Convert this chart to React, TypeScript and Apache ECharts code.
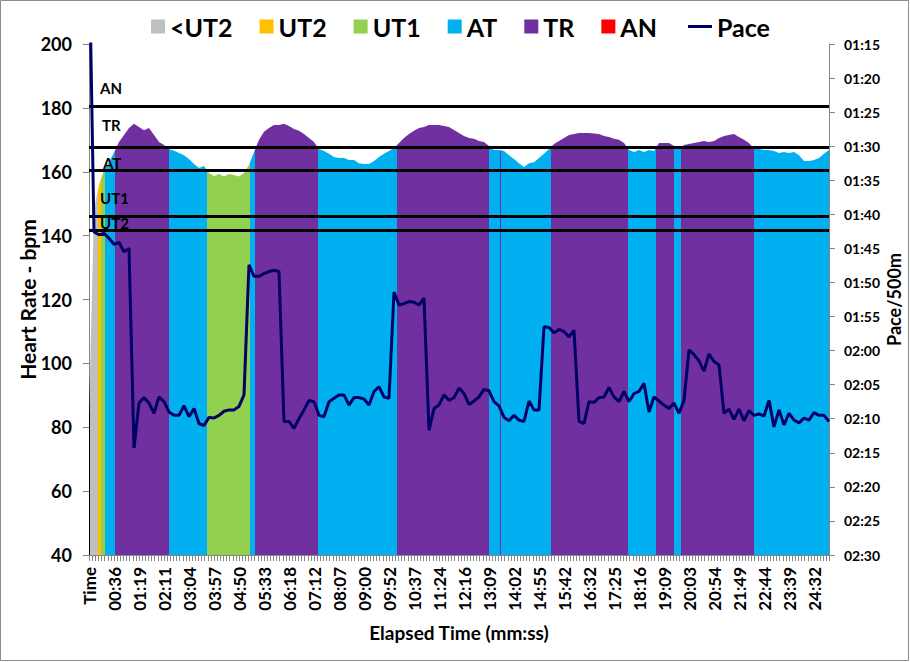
import React, { useEffect, useRef } from "react";
import * as echarts from "echarts";

// ---- data ----
const tickLabels = [
  "Time", "00:36", "01:19", "02:11", "03:04", "03:57", "04:50", "05:33", "06:18", "07:12",
  "08:07", "09:00", "09:52", "10:37", "11:24", "12:16", "13:09", "14:02", "14:55", "15:42",
  "16:32", "17:25", "18:16", "19:09", "20:03", "20:54", "21:49", "22:44", "23:39", "24:32",
];
const samplesPerLabel = 5;

const hrValues = [
  84, 148, 156, 160.5, 163, 166, 169.3, 171.5, 173.7, 175,
  174, 173, 173.7, 171.5, 169.3, 168.4, 167.1, 166.6, 165.9, 165.2,
  164, 162.4, 161.2, 161.8, 159.6, 158.7, 159.3, 158.5, 159.3, 159,
  158.5, 159.6, 162.1, 166.2, 170, 172.5, 173.7, 174.6, 174.6, 175,
  174.3, 173.4, 172.8, 171.8, 170.6, 169.3, 167.1, 166.5, 165.6, 164.6,
  164.3, 164.3, 163.7, 163.7, 162.7, 162.4, 162.4, 163.4, 164.6, 165.6,
  166.5, 167.4, 169, 170.6, 171.8, 172.8, 173.7, 174, 174.6, 174.6,
  174.6, 174.3, 174, 173.1, 172.1, 171.2, 170.6, 170.3, 169.6, 169.3,
  168.1, 166.8, 166.8, 166.5, 165.2, 164, 162.7, 161.5, 162.7, 163,
  164.3, 165.6, 167.1, 168.7, 169.6, 170.6, 171.5, 171.8, 172.1, 172.1,
  172.1, 172, 171.8, 171.2, 170.9, 170.3, 170, 169, 166.8, 166.2,
  166.8, 166.2, 166.8, 166.5, 169, 169, 169, 168.1, 167.1, 168.4,
  168.7, 169, 169.3, 169.6, 169.3, 169.6, 170.6, 171.2, 171.5, 171.8,
  170.9, 170, 169, 167.1, 167.1, 166.8, 166.8, 166.5, 165.9, 166.2,
  165.9, 166.2, 165.2, 163.4, 163.4, 163.7, 164.3, 165.6, 166.8,
];

// pace per 500m, in seconds
const paceSeconds = [
  60, 102.6, 103.0, 102.8, 103.5, 104.4, 104.1, 105.5, 105.0, 134.3,
  127.7, 126.9, 127.7, 129.2, 126.8, 127.5, 129.0, 129.5, 129.5, 128.1,
  129.7, 128.5, 130.7, 131.0, 129.8, 129.9, 129.5, 128.9, 128.7, 128.7,
  128.2, 126.5, 107.4, 109.1, 109.1, 108.7, 108.4, 108.2, 108.4, 130.4,
  130.4, 131.4, 130.0, 128.7, 127.3, 127.5, 129.5, 129.7, 127.5, 127.0,
  126.5, 126.5, 128.0, 126.9, 126.9, 127.1, 128.0, 126.0, 125.3, 126.8,
  127.0, 111.4, 113.3, 113.1, 112.8, 112.9, 113.3, 112.3, 131.7, 128.5,
  128.0, 126.5, 127.3, 126.9, 125.5, 126.3, 127.9, 127.4, 126.8, 125.7,
  125.9, 127.5, 128.1, 129.8, 130.3, 129.5, 130.2, 130.4, 127.4, 128.7,
  128.7, 116.5, 116.6, 117.4, 116.9, 117.2, 118.0, 117.0, 130.4, 130.7,
  127.5, 127.6, 126.9, 126.8, 125.4, 126.8, 127.5, 126.0, 127.5, 126.3,
  126.0, 124.8, 129.0, 126.8, 127.4, 128.0, 128.5, 127.7, 129.2, 127.3,
  119.9, 120.6, 121.5, 123.0, 120.5, 121.6, 122.1, 129.2, 128.6, 130.1,
  128.6, 130.3, 128.8, 129.5, 129.3, 129.6, 127.3, 131.2, 128.7, 130.9,
  129.2, 130.2, 130.6, 129.9, 130.2, 129.1, 129.5, 129.5, 130.4,
];

// training zone of each stretch of the session (start sample index, zone)
const zoneStarts = [0, 0.3, 1.76, 2.44, 3.3, 5.3, 16, 23.6, 32.1, 33.3, 45.8, 61.6, 80.1, 82.2, 82.4, 92.4, 107.8, 113.3, 117.1, 118.4, 132.9];
const zoneOfStretch = ["", "<UT2", "UT2", "UT1", "AT", "TR", "AT", "UT1", "AT", "TR", "AT", "TR", "AT", "TR", "AT", "TR", "AT", "TR", "AT", "TR", "AT"];

const zoneNames = ["<UT2", "UT2", "UT1", "AT", "TR", "AN"];
const thresholdNames = ["AN", "TR", "AT", "UT1", "UT2"];
const thresholdValues = [180.5, 167.8, 160.5, 146.2, 141.7];

// ---- styles ----
const zoneColors: Record<string, string> = {
  "": "#000000",
  "<UT2": "#BFBFBF",
  UT2: "#FFC000",
  UT1: "#92D050",
  AT: "#00B0F0",
  TR: "#7030A0",
  AN: "#FF0000",
};
const paceColor = "#000066";
const labelDistances: number[][] = [[11, 11], [13, 14], [14, 0], [11, 10], [11, 0]];
const FONT = "Lato, 'Liberation Sans', sans-serif";
const legendText = { fontSize: 25, fontWeight: "bold", color: "#000", fontFamily: FONT };

const fmtPace = (v: number) => {
  const m = Math.floor(v / 60);
  const s = Math.round(v - m * 60);
  return `${String(m).padStart(2, "0")}:${String(s).padStart(2, "0")}`;
};

export default function App() {
  const ref = useRef<HTMLDivElement>(null);

  useEffect(() => {
    if (!ref.current) return;
    const chart = echarts.init(ref.current, undefined, { renderer: "svg" });
    const lastIndex = hrValues.length - 1;

    const pieces = zoneStarts.map((start, i) => {
      const end = i + 1 < zoneStarts.length ? zoneStarts[i + 1] : lastIndex + 1;
      return { gte: start, lt: end, color: zoneColors[zoneOfStretch[i]] };
    });

    const zoneSeries = zoneNames.map((name) => ({
      name,
      type: "bar",
      data: [],
      itemStyle: { color: zoneColors[name] },
    }));

    const option: any = {
      animation: false,
      backgroundColor: "#ffffff",
      textStyle: { fontFamily: FONT },
      graphic: [
        {
          type: "rect",
          shape: { x: 0.5, y: 0.5, width: 908, height: 660 },
          style: { fill: "none", stroke: "#8c8c8c", lineWidth: 1 },
          silent: true,
        },
      ],
      legend: [
        {
          top: 9,
          left: 146,
          itemWidth: 14,
          itemHeight: 14,
          itemGap: 27,
          textStyle: legendText,
          data: zoneNames.map((n) => ({ name: n, icon: "rect" })),
        },
        {
          top: 9,
          left: 683,
          itemWidth: 24,
          itemHeight: 3,
          textStyle: legendText,
          data: [{ name: "Pace", icon: "rect" }],
        },
      ],
      grid: { left: 89, top: 44, width: 740, height: 511, outerBoundsMode: "none" },
      visualMap: {
        type: "piecewise",
        show: false,
        seriesIndex: 0,
        dimension: 0,
        pieces,
        outOfRange: { color: "#000000" },
      },
      xAxis: {
        type: "value",
        min: 0,
        max: lastIndex,
        interval: samplesPerLabel,
        name: "Elapsed Time (mm:ss)",
        nameLocation: "middle",
        nameGap: 68,
        nameMoveOverlap: false,
        nameTextStyle: { fontSize: 19, fontWeight: "bold", color: "#000", fontFamily: FONT },
        axisLine: { lineStyle: { color: "#868686", width: 1 } },
        axisTick: { length: 6, lineStyle: { color: "#868686" } },
        minorTick: { show: true, splitNumber: 8, length: 6, lineStyle: { color: "#868686" } },
        splitLine: { show: false },
        axisLabel: {
          rotate: 90,
          margin: 12,
          fontSize: 17,
          fontWeight: "bold",
          color: "#000",
          fontFamily: FONT,
          formatter: (v: number) => tickLabels[Math.round(v / samplesPerLabel)] ?? "",
        },
      },
      yAxis: [
        {
          type: "value",
          min: 40,
          max: 200,
          interval: 20,
          name: "Heart Rate - bpm",
          nameLocation: "middle",
          nameGap: 51,
          nameMoveOverlap: false,
          nameTextStyle: { fontSize: 21, fontWeight: "bold", color: "#000", fontFamily: FONT },
          axisLine: { show: true, lineStyle: { color: "#868686" } },
          axisTick: { show: true, length: 6, lineStyle: { color: "#868686" } },
          splitLine: { show: false },
          axisLabel: { fontSize: 18, fontWeight: "bold", color: "#000", margin: 17, fontFamily: FONT },
        },
        {
          type: "value",
          position: "right",
          inverse: true,
          min: 75,
          max: 150,
          interval: 5,
          name: "Pace/500m",
          nameLocation: "middle",
          nameGap: 56,
          nameMoveOverlap: false,
          nameTextStyle: { fontSize: 18, fontWeight: "bold", color: "#000", fontFamily: FONT },
          axisLine: { show: true, lineStyle: { color: "#868686" } },
          axisTick: { show: true, length: 6, lineStyle: { color: "#868686" } },
          splitLine: { show: false },
          axisLabel: {
            fontSize: 14,
            fontWeight: "bold",
            color: "#000",
            margin: 15,
            fontFamily: FONT,
            formatter: (v: number) => fmtPace(v),
          },
        },
      ],
      series: [
        {
          name: "Heart Rate",
          type: "line",
          data: hrValues.map((v, i) => [i, v]),
          symbol: "none",
          lineStyle: { width: 0 },
          areaStyle: { opacity: 1, origin: "start" },
          z: 1,
          markLine: {
            silent: true,
            symbol: ["none", "none"],
            lineStyle: { color: "#000000", width: 3, type: "solid" },
            label: {
              show: true,
              position: "insideStartTop",
              color: "#000",
              fontSize: 15,
              fontWeight: "bold",
              fontFamily: FONT,
            },
            data: thresholdValues.map((v, i) => ({
              yAxis: v,
              label: { formatter: thresholdNames[i], distance: labelDistances[i] },
            })),
          },
        },
        ...zoneSeries,
        {
          name: "Pace",
          type: "line",
          yAxisIndex: 1,
          data: paceSeconds.map((v, i) => [i, v]),
          symbol: "none",
          showSymbol: false,
          lineStyle: { color: paceColor, width: 3 },
          itemStyle: { color: paceColor },
          z: 5,
        },
      ],
    };

    chart.setOption(option);
    return () => chart.dispose();
  }, []);

  return (
    <div
      ref={ref}
      style={{ position: "fixed", left: 0, top: 0, width: 910, height: 662 }}
    />
  );
}
